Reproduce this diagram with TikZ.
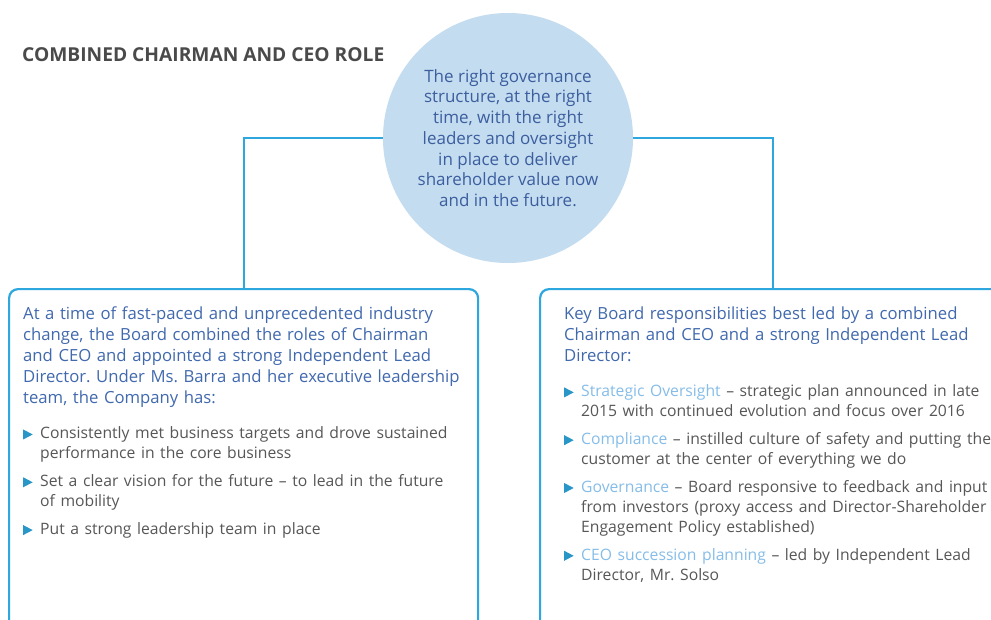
\documentclass[tikz,border=0pt]{standalone}
\usepackage{fontspec}
\setmainfont{Open Sans}
\usetikzlibrary{positioning}
\definecolor{linecol}{HTML}{2EA7DE}
\definecolor{circfill}{HTML}{C3DCF0}
\definecolor{circtext}{HTML}{3C5E9E}
\definecolor{introcol}{HTML}{4169AE}
\definecolor{itemcol}{HTML}{575757}
\definecolor{keycol}{HTML}{86BDE8}
\definecolor{titlecol}{HTML}{4A4A4A}
\newcommand{\tri}{\tikz[baseline=0pt]\fill[linecol!90!black] (0pt,-0.5pt) -- (0pt,9.5pt) -- (9.5pt,4.5pt) -- cycle;}
\newcommand{\bitem}[1]{\par\vspace{7.8pt}\fontsize{15.7}{20}\selectfont\noindent\hangindent=17pt\hangafter=1\makebox[17pt][l]{\tri}{\color{itemcol}#1}\par}
\newcommand{\key}[1]{\textcolor{keycol}{#1}}
\frenchspacing
\tikzset{
    panel/.style={draw=linecol, line width=2.2pt, rounded corners=9pt, anchor=north west,
                  minimum height=360pt, inner sep=0pt},
    link/.style={draw=linecol, line width=2.2pt},
    blurb/.style={text width=470pt, align=left, inner sep=0pt, anchor=north west,
                  text=introcol, font=\fontsize{16.7}{21}\selectfont},
}

\begin{document}
\begin{tikzpicture}[x=1pt, y=-1pt]
    \useasboundingbox (0,0) rectangle (991,619);
    \fill[white] (0,0) rectangle (991,619);
    \clip (0,0) rectangle (991,619);

    \node[anchor=west, inner sep=0pt, text=titlecol,
          font=\bfseries\fontsize{19.2}{22}\selectfont] (title) at (22,55)
          {COMBINED CHAIRMAN AND CEO ROLE};

    \node[circle, fill=circfill, minimum size=250pt, inner sep=0pt, align=center,
          text=circtext, font=\fontsize{17}{20.7}\selectfont] (vision) at (508,138)
          {The right governance\\structure, at the right\\time, with the right\\leaders and oversight\\in place to deliver\\shareholder value now\\and in the future.};

    \node[panel, minimum width=469pt] (leftbox) at (8,288) {};
    \node[panel, minimum width=466pt] (rightbox) at (539,288) {};

    \draw[link] (vision.west) -| (leftbox.north);
    \draw[link] (vision.east) -| (rightbox.north);

    \node[blurb] (lefttext) at (23,307) {%
        At a time of fast-paced and unprecedented industry\newline
        change, the Board combined the roles of Chairman\newline
        and CEO and appointed a strong Independent Lead\newline
        Director. Under Ms. Barra and her executive leadership\newline
        team, the Company has:\par\vspace{7.2pt}
        \bitem{Consistently met business targets and drove sustained\newline performance in the core business}
        \bitem{Set a clear vision for the future -- to lead in the future\newline of mobility}
        \bitem{Put a strong leadership team in place}};

    \node[blurb] (righttext) at (564,307) {%
        Key Board responsibilities best led by a combined\newline
        Chairman and CEO and a strong Independent Lead\newline
        Director:\par\vspace{7.2pt}
        \bitem{\key{Strategic Oversight} -- strategic plan announced in late\newline 2015 with continued evolution and focus over 2016}
        \bitem{\key{Compliance} -- instilled culture of safety and putting the\newline customer at the center of everything we do}
        \bitem{\key{Governance} -- Board responsive to feedback and input\newline from investors (proxy access and Director-Shareholder\newline Engagement Policy established)}
        \bitem{\key{CEO succession planning} -- led by Independent Lead\newline Director, Mr. Solso}};
\end{tikzpicture}
\end{document}
